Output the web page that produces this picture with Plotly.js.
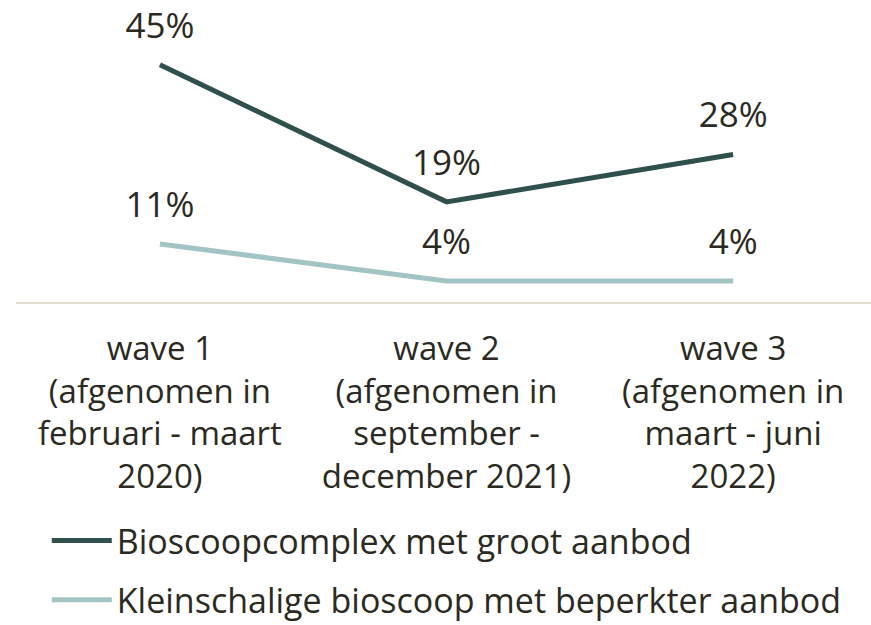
<!DOCTYPE html>
<html>
<head>
<meta charset="utf-8">
<script src="https://cdn.plot.ly/plotly-3.0.1.min.js"></script>
<style>
  html, body { margin: 0; padding: 0; background: #fff; overflow: hidden; }
  #chart { width: 871px; height: 625px; overflow: hidden; }
</style>
</head>
<body>
<div id="chart"></div>
<script>
const waves = [
    "wave 1<br>(afgenomen in<br>februari - maart<br>2020)",
    "wave 2<br>(afgenomen in<br>september -<br>december 2021)",
    "wave 3<br>(afgenomen in<br>maart - juni<br>2022)"
];
const groot = [45, 19, 28];
const klein = [11, 4, 4];
const names = ["Bioscoopcomplex met groot aanbod", "Kleinschalige bioscoop met beperkter aanbod"];

const font = "'Open Sans', sans-serif";
const ink = "#2b2a22";

const series = (y, name, color) => ({
    x: waves,
    y,
    name,
    legendgroup: name,
    type: "scatter",
    mode: "lines+markers+text",
    text: y.map(v => v + "%"),
    textposition: "top center",
    textfont: { family: font, size: 35, color: ink },
    marker: { size: 28, color: "rgba(0,0,0,0)" },
    line: { color, width: 5 },
    cliponaxis: false,
    hoverinfo: "y"
});

const data = [
    series(groot, names[0], "#2f504d"),
    series(klein, names[1], "#a3c4c4")
];

// slightly taller than the window so the legend can sit lower; the overflow is cropped
const layout = {
    width: 871,
    height: 629,
    margin: { l: 16, r: 0, t: 0, b: 327 },
    paper_bgcolor: "#fff",
    plot_bgcolor: "#fff",
    font: { family: font, size: 33, color: ink },
    showlegend: true,
    legend: {
        orientation: "v",
        x: 0.036, xanchor: "left",
        y: 0.0, yanchor: "bottom",
        yref: "container",
        font: { family: font, size: 34, color: ink },
        tracegroupgap: 12,
        itemwidth: 60,
        bgcolor: "rgba(0,0,0,0)"
    },
    xaxis: {
        type: "category",
        range: [-0.502, 2.481],
        showgrid: false,
        zeroline: false,
        showline: true,
        linecolor: "#e2ded6",
        linewidth: 2,
        ticks: "",
        ticklabelstandoff: 16,
        tickfont: { family: font, size: 33, color: ink },
        fixedrange: true
    },
    yaxis: {
        range: [0, 57.3],
        visible: false,
        showgrid: false,
        zeroline: false,
        fixedrange: true
    }
};

Plotly.newPlot("chart", data, layout, { displayModeBar: false, staticPlot: true });
</script>
</body>
</html>
